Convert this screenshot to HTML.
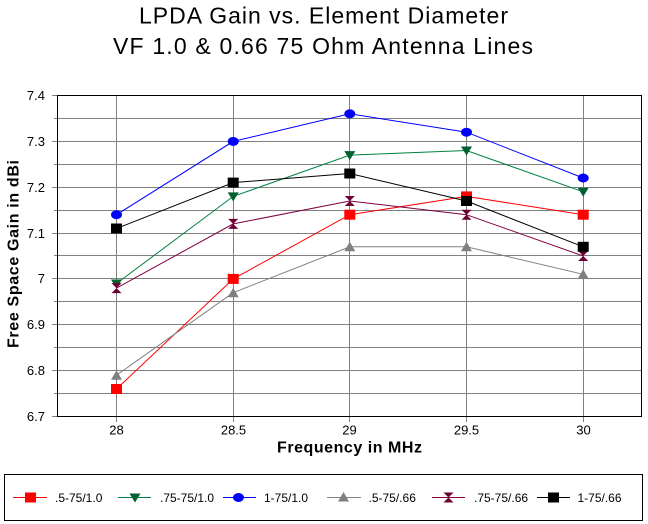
<!DOCTYPE html>
<html>
<head>
<meta charset="utf-8">
<style>
  html,body{margin:0;padding:0;background:#fff;}
  svg{display:block;}
  text{font-family:"Liberation Sans", Arial, sans-serif;}
</style>
</head>
<body>
<svg width="648" height="524" viewBox="0 0 648 524" xmlns="http://www.w3.org/2000/svg">
  <rect x="0" y="0" width="648" height="524" fill="#fff"/>
  <defs>
    <rect id="sq" x="-5.5" y="-5" width="11" height="10"/>
    <ellipse id="circ" cx="0" cy="0" rx="5.5" ry="4.5"/>
    <polygon id="tdown" points="-5.5,-4 5.5,-4 0,5"/>
    <polygon id="tup" points="0,-5 5.5,4.5 -5.5,4.5"/>
    <polygon id="hour" points="-5,-5 5,-5 -5,5 5,5"/>
  </defs>

  <!-- Title -->
  <text x="139" y="23.5" font-size="23" textLength="369" lengthAdjust="spacing" fill="#000">LPDA Gain vs. Element Diameter</text>
  <text x="113" y="54" font-size="23" textLength="420" lengthAdjust="spacing" fill="#000">VF 1.0 &amp; 0.66 75 Ohm Antenna Lines</text>

  <!-- Horizontal gridlines -->
  <g stroke="#808080" stroke-width="1" shape-rendering="crispEdges">
    <line x1="58" y1="118.5" x2="641" y2="118.5"/>
    <line x1="58" y1="141.5" x2="641" y2="141.5"/>
    <line x1="58" y1="164.5" x2="641" y2="164.5"/>
    <line x1="58" y1="187.5" x2="641" y2="187.5"/>
    <line x1="58" y1="210.5" x2="641" y2="210.5"/>
    <line x1="58" y1="233.5" x2="641" y2="233.5"/>
    <line x1="58" y1="255.5" x2="641" y2="255.5"/>
    <line x1="58" y1="278.5" x2="641" y2="278.5"/>
    <line x1="58" y1="301.5" x2="641" y2="301.5"/>
    <line x1="58" y1="324.5" x2="641" y2="324.5"/>
    <line x1="58" y1="347.5" x2="641" y2="347.5"/>
    <line x1="58" y1="370.5" x2="641" y2="370.5"/>
    <line x1="58" y1="393.5" x2="641" y2="393.5"/>
    <!-- y ticks (major) -->
    <line x1="52" y1="95.5" x2="58" y2="95.5"/>
    <line x1="52" y1="141.5" x2="58" y2="141.5"/>
    <line x1="52" y1="187.5" x2="58" y2="187.5"/>
    <line x1="52" y1="233.5" x2="58" y2="233.5"/>
    <line x1="52" y1="278.5" x2="58" y2="278.5"/>
    <line x1="52" y1="324.5" x2="58" y2="324.5"/>
    <line x1="52" y1="370.5" x2="58" y2="370.5"/>
    <line x1="52" y1="416.5" x2="58" y2="416.5"/>
    <!-- y ticks (minor) -->
    <line x1="54" y1="118.5" x2="58" y2="118.5"/>
    <line x1="54" y1="164.5" x2="58" y2="164.5"/>
    <line x1="54" y1="210.5" x2="58" y2="210.5"/>
    <line x1="54" y1="255.5" x2="58" y2="255.5"/>
    <line x1="54" y1="301.5" x2="58" y2="301.5"/>
    <line x1="54" y1="347.5" x2="58" y2="347.5"/>
    <line x1="54" y1="393.5" x2="58" y2="393.5"/>
    <!-- Vertical gridlines + x ticks -->
    <line x1="116.5" y1="96" x2="116.5" y2="422"/>
    <line x1="233.5" y1="96" x2="233.5" y2="422"/>
    <line x1="349.5" y1="96" x2="349.5" y2="422"/>
    <line x1="466.5" y1="96" x2="466.5" y2="422"/>
    <line x1="583.5" y1="96" x2="583.5" y2="422"/>
  </g>

  <!-- Plot border -->
  <rect x="57.5" y="95.5" width="584" height="321" fill="none" stroke="#000" stroke-width="1" shape-rendering="crispEdges"/>

  <!-- Y tick labels -->
  <g font-size="13" text-anchor="end" fill="#000">
    <text x="45" y="100">7.4</text>
    <text x="45" y="146">7.3</text>
    <text x="45" y="192">7.2</text>
    <text x="45" y="238">7.1</text>
    <text x="45" y="283">7</text>
    <text x="45" y="329">6.9</text>
    <text x="45" y="375">6.8</text>
    <text x="45" y="421">6.7</text>
  </g>

  <!-- X tick labels -->
  <g font-size="13" text-anchor="middle" fill="#000">
    <text x="116.5" y="434.5">28</text>
    <text x="233.5" y="434.5">28.5</text>
    <text x="349.5" y="434.5">29</text>
    <text x="466.5" y="434.5">29.5</text>
    <text x="583.5" y="434.5">30</text>
  </g>

  <!-- Axis titles -->
  <text x="277" y="452.5" font-size="16" font-weight="bold" textLength="145" lengthAdjust="spacing" fill="#000">Frequency in MHz</text>
  <text transform="translate(18.5,348) rotate(-90)" x="0" y="0" font-size="16" font-weight="bold" textLength="188" lengthAdjust="spacing" fill="#000">Free Space Gain in dBi</text>

  <!-- Series: .5-75/1.0 red squares -->
  <polyline fill="none" stroke="#ff0000" stroke-width="1" points="116.5,389 233.2,278.9 349.8,214.7 466.5,196.4 583.2,214.7"/>
  <g fill="#ff0000">
    <use href="#sq" x="116.5" y="389"/>
    <use href="#sq" x="233.2" y="278.9"/>
    <use href="#sq" x="349.8" y="214.7"/>
    <use href="#sq" x="466.5" y="196.4"/>
    <use href="#sq" x="583.2" y="214.7"/>
  </g>

  <!-- Series: .75-75/1.0 green down triangles -->
  <polyline fill="none" stroke="#008040" stroke-width="1" points="116.5,283.5 233.2,196.4 349.8,155.1 466.5,150.5 583.2,191.8"/>
  <g fill="#00602f">
    <use href="#tdown" x="116.5" y="283.5"/>
    <use href="#tdown" x="233.2" y="196.4"/>
    <use href="#tdown" x="349.8" y="155.1"/>
    <use href="#tdown" x="466.5" y="150.5"/>
    <use href="#tdown" x="583.2" y="191.8"/>
  </g>

  <!-- Series: 1-75/1.0 blue circles -->
  <polyline fill="none" stroke="#0000ff" stroke-width="1" points="116.5,214.7 233.2,141.4 349.8,113.8 466.5,132.2 583.2,178"/>
  <g fill="#0000ff">
    <use href="#circ" x="116.5" y="214.7"/>
    <use href="#circ" x="233.2" y="141.4"/>
    <use href="#circ" x="349.8" y="113.8"/>
    <use href="#circ" x="466.5" y="132.2"/>
    <use href="#circ" x="583.2" y="178"/>
  </g>

  <!-- Series: .5-75/.66 gray up triangles -->
  <polyline fill="none" stroke="#808080" stroke-width="1" points="116.5,375.2 233.2,292.7 349.8,246.8 466.5,246.8 583.2,274.3"/>
  <g fill="#808080">
    <use href="#tup" x="116.5" y="375.2"/>
    <use href="#tup" x="233.2" y="292.7"/>
    <use href="#tup" x="349.8" y="246.8"/>
    <use href="#tup" x="466.5" y="246.8"/>
    <use href="#tup" x="583.2" y="274.3"/>
  </g>

  <!-- Series: .75-75/.66 maroon hourglass -->
  <polyline fill="none" stroke="#800040" stroke-width="1" points="116.5,288.1 233.2,223.9 349.8,201 466.5,214.7 583.2,256"/>
  <g fill="#6a0034">
    <use href="#hour" x="116.5" y="288.1"/>
    <use href="#hour" x="233.2" y="223.9"/>
    <use href="#hour" x="349.8" y="201"/>
    <use href="#hour" x="466.5" y="214.7"/>
    <use href="#hour" x="583.2" y="256"/>
  </g>

  <!-- Series: 1-75/.66 black squares -->
  <polyline fill="none" stroke="#000" stroke-width="1" points="116.5,228.5 233.2,182.6 349.8,173.5 466.5,201 583.2,246.8"/>
  <g fill="#000">
    <use href="#sq" x="116.5" y="228.5"/>
    <use href="#sq" x="233.2" y="182.6"/>
    <use href="#sq" x="349.8" y="173.5"/>
    <use href="#sq" x="466.5" y="201"/>
    <use href="#sq" x="583.2" y="246.8"/>
  </g>

  <!-- Legend -->
  <rect x="4.5" y="474.5" width="638" height="46" fill="#fff" stroke="#000" stroke-width="1" shape-rendering="crispEdges"/>
  <g stroke-width="1" shape-rendering="crispEdges">
    <line x1="13" y1="497.5" x2="47" y2="497.5" stroke="#ff0000"/>
    <line x1="118" y1="497.5" x2="151" y2="497.5" stroke="#008040"/>
    <line x1="223" y1="497.5" x2="256" y2="497.5" stroke="#0000ff"/>
    <line x1="327" y1="497.5" x2="361" y2="497.5" stroke="#808080"/>
    <line x1="432" y1="497.5" x2="465" y2="497.5" stroke="#800040"/>
    <line x1="537" y1="497.5" x2="570" y2="497.5" stroke="#000"/>
  </g>
  <use href="#sq" x="30.5" y="497.5" fill="#ff0000"/>
  <use href="#tdown" x="135" y="497.5" fill="#00602f"/>
  <use href="#circ" x="238.5" y="497.5" fill="#0000ff"/>
  <use href="#tup" x="343.5" y="497" fill="#808080"/>
  <use href="#hour" x="448.5" y="497.5" fill="#6a0034"/>
  <use href="#sq" x="553.5" y="497.5" fill="#000"/>
  <g font-size="12" fill="#000">
    <text x="55" y="502">.5-75/1.0</text>
    <text x="160" y="502">.75-75/1.0</text>
    <text x="264" y="502">1-75/1.0</text>
    <text x="368.5" y="502">.5-75/.66</text>
    <text x="474" y="502">.75-75/.66</text>
    <text x="577.5" y="502">1-75/.66</text>
  </g>
</svg>
</body>
</html>
